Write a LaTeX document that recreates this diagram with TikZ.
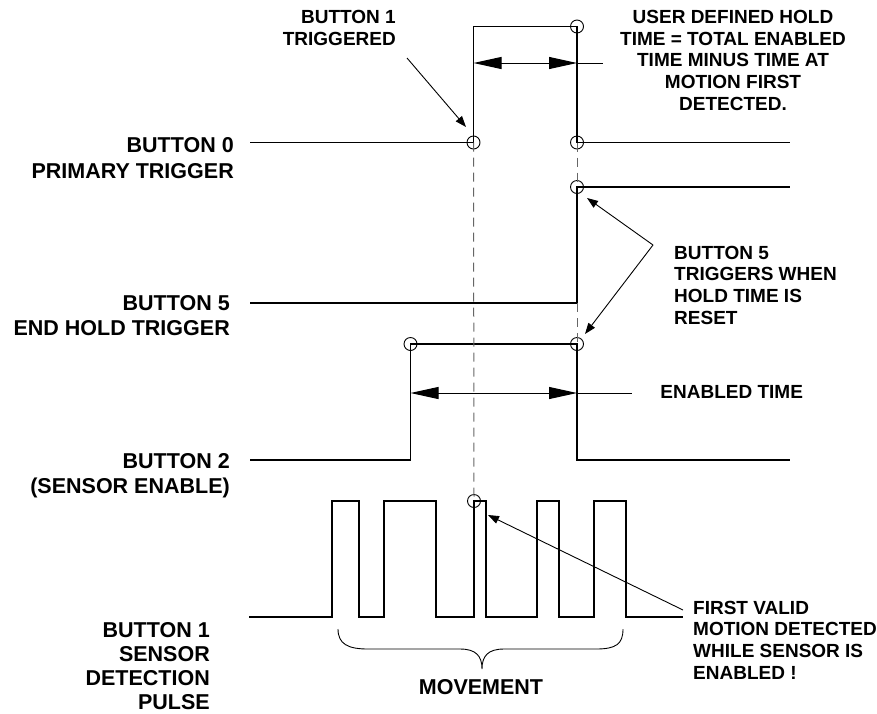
\documentclass[tikz,border=0pt]{standalone}
\usepackage{fontspec}
\setmainfont{Liberation Sans}
\usetikzlibrary{arrows.meta}
\begin{document}
\begin{tikzpicture}[x=1pt,y=-1pt,
  wave/.style={line width=1.1pt, line join=miter},
  ringpt/.style={circle, draw, line width=0.9pt, minimum size=13pt, inner sep=0pt},
  guide/.style={line width=1pt, draw=black!60, dash pattern=on 9pt off 6pt},
  dimline/.style={line width=1pt},
  dimtips/.style={line width=1pt, {Triangle[length=28pt,width=12pt]}-{Triangle[length=28pt,width=12pt]}},
  pointer/.style={line width=0.9pt, -{Triangle[length=11pt,width=8pt]}},
  lbl/.style={font=\fontsize{21.5}{25.5}\selectfont\bfseries, inner sep=0pt, align=right, anchor=east},
  note/.style={font=\fontsize{19}{21.7}\selectfont\bfseries, inner sep=0pt}
]
\useasboundingbox (0,0) rectangle (877,713);

% ---- marker circles
\node[ringpt] (c0a) at (473.5,142.5) {};
\node[ringpt] (c0b) at (577,142.5) {};
\node[ringpt] (c0t) at (577,26.5) {};
\node[ringpt] (c5t) at (577,187) {};
\node[ringpt] (c2r) at (577,344) {};
\node[ringpt] (c2l) at (410.5,344) {};
\node[ringpt] (c1p) at (474,501) {};

% ---- left labels
\node[lbl] (l0) at (234,158) {BUTTON 0\\PRIMARY TRIGGER};
\node[lbl] (l5) at (230,315.5) {BUTTON 5\\END HOLD TRIGGER};
\node[lbl] (l2) at (230,475.5) {BUTTON 2\\(SENSOR ENABLE)};
\node[lbl, font=\fontsize{21.5}{24.1}\selectfont\bfseries] (l1) at (210,666) {BUTTON 1\\SENSOR\\DETECTION\\PULSE};

% ---- notes
\node[note, align=right, anchor=east] (nb1) at (396,28.3) {BUTTON 1\\TRIGGERED};
\node[note, align=center] (nhold) at (733,60.3) {USER DEFINED HOLD\\TIME = TOTAL ENABLED\\TIME MINUS TIME AT\\MOTION FIRST\\DETECTED.};
\node[note, align=left, anchor=west] (nb5) at (674,285.2) {BUTTON 5\\TRIGGERS WHEN\\HOLD TIME IS\\RESET};
\node[note] (nen) at (731.7,392) {ENABLED TIME};
\node[note, align=left, anchor=west] (nfv) at (693,640) {FIRST VALID\\MOTION DETECTED\\WHILE SENSOR IS\\ENABLED !};
\node[font=\fontsize{21.5}{25.5}\selectfont\bfseries, inner sep=0pt] (nmv) at (481,687) {MOVEMENT};

% ---- waveforms
\draw[wave] (250,142.5) -- (c0a.center) -- (473.5,26.5) -- (c0t.center) -- (c0b.center) -- (790,142.5);
\draw[wave] (250,303) -- (577,303) -- (c5t.center) -- (790,187);
\draw[wave] (250,460) -- (410.5,460) -- (c2l.center) -- (c2r.center) -- (577,460) -- (790,460);
\draw[wave] (249,617) -- (332,617) -- (332,501) -- (359,501) -- (359,617)
  -- (384,617) -- (384,501) -- (436,501) -- (436,617) -- (474,617)
  -- (c1p.center) -- (486,501) -- (486,617) -- (537,617) -- (537,501)
  -- (559,501) -- (559,617) -- (594,617) -- (594,501) -- (626,501)
  -- (626,617) -- (683,617);

% ---- dashed guides
\draw[guide] (c0a.center) -- (c1p.center);
\draw[guide] (c0b.center) -- (c5t.center);
\draw[guide] (577,303) -- (c2r.center);

% ---- dimension arrows
\draw[dimtips] (473.5,63) -- (577,63);
\draw[dimline] (577,63) -- (603,63);
\draw[dimtips] (410.5,393) -- (577,393);
\draw[dimline] (577,393) -- (632,393);

% ---- pointers
\coordinate (pb1) at (407,58);
\coordinate (pb5) at (653,245);
\coordinate (pfv) at (683,610);
\draw[pointer] (pb1) -- (466,127);
\draw[pointer] (pb5) -- (587,198);
\draw[pointer] (pb5) -- (585,334);
\draw[pointer] (pfv) -- (488,515);

% ---- brace
\draw[line width=0.9pt] (338,629) .. controls (338,644) and (348,649) .. (368,649)
  -- (460,649) .. controls (476,649) and (482,656) .. (482,669)
  .. controls (482,656) and (488,649) .. (504,649)
  -- (596,649) .. controls (616,649) and (623,644) .. (623,629);
\end{tikzpicture}
\end{document}
